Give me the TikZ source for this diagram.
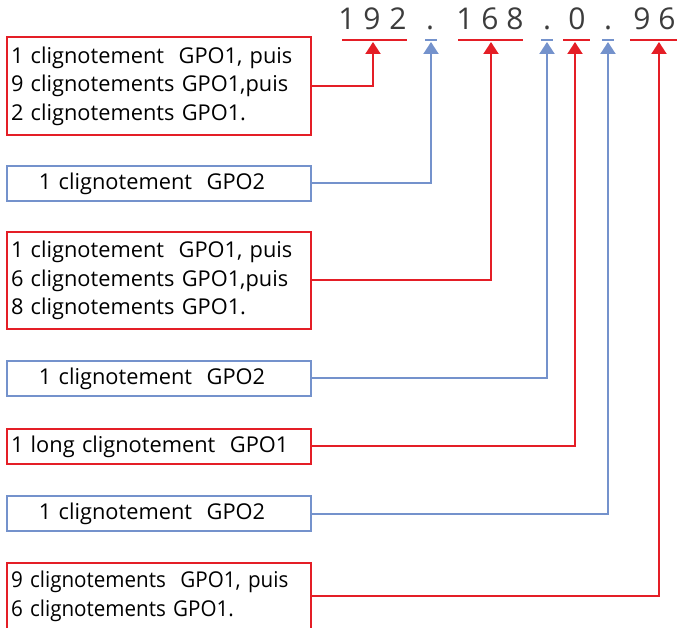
\documentclass[tikz,border=0pt]{standalone}
\usepackage{fontspec}
\setmainfont{Open Sans}
\newfontfamily\narrowf[FakeStretch=0.945]{Open Sans}
\usetikzlibrary{arrows.meta}
\definecolor{rd}{RGB}{228,30,38}
\definecolor{bl}{RGB}{116,146,204}
\definecolor{dg}{RGB}{60,60,60}
\begin{document}
\begin{tikzpicture}[x=1pt,y=-1pt,
  box/.style={draw,line width=2pt,minimum width=304pt,inner sep=0pt,anchor=west,
     font=\fontsize{21.8}{28.5}\selectfont,text width=296pt,align=left},
  rbox/.style={box,draw=rd},
  bbox/.style={box,draw=bl},
  dig/.style={anchor=base,inner sep=0pt,text=dg,font=\fontsize{30}{30}\selectfont},
  rline/.style={draw=rd,line width=2pt,-{Triangle[width=15pt,length=12pt]}},
  bline/.style={draw=bl,line width=2pt,-{Triangle[width=15pt,length=12pt]}},
  ul/.style={line width=2.5pt}]
\useasboundingbox (0,0) rectangle (678,628);
\clip (0,0) rectangle (678,628);
% address digits
\node[dig] (c1) at (347,30) {1};
\node[dig] (c2) at (372,30) {9};
\node[dig] (c3) at (398,30) {2};
\node[dig] (p1) at (430,30) {.};
\node[dig] (c4) at (465,30) {1};
\node[dig] (c5) at (490,30) {6};
\node[dig] (c6) at (515,30) {8};
\node[dig] (p2) at (547,30) {.};
\node[dig] (c7) at (577,30) {0};
\node[dig] (p3) at (608,30) {.};
\node[dig] (c8) at (642,30) {9};
\node[dig] (c9) at (667,30) {6};
% underlines
\draw[ul,rd] (342,40) -- (407,40);
\draw[ul,bl] (425,40) -- (437,40);
\draw[ul,rd] (458,40) -- (523,40);
\draw[ul,bl] (541,40) -- (553,40);
\draw[ul,rd] (563,40) -- (590,40);
\draw[ul,bl] (602,40) -- (614,40);
\draw[ul,rd] (630,40) -- (677,40);
% arrow tips
\coordinate (t1) at (373,42);
\coordinate (t2) at (431,42);
\coordinate (t3) at (491,42);
\coordinate (t4) at (547,42);
\coordinate (t5) at (575,42);
\coordinate (t6) at (608,42);
\coordinate (t7) at (659,42);
% boxes
\node[rbox,minimum height=98pt] (b1) at (6,86)
  {1 clignotement\ \ GPO1, puis\\9 clignotements GPO1,puis\\2 clignotements GPO1.};
\node[bbox,minimum height=35pt] (b2) at (6,183.5)
  {\hspace*{28pt}1 clignotement\ \ GPO2};
\node[rbox,minimum height=97pt] (b3) at (6,280.5)
  {1 clignotement\ \ GPO1, puis\\6 clignotements GPO1,puis\\8 clignotements GPO1.};
\node[bbox,minimum height=35pt] (b4) at (6,378.5)
  {\hspace*{28pt}1 clignotement\ \ GPO2};
\node[rbox,minimum height=35pt] (b5) at (6,446.5)
  {1 long clignotement\ \ GPO1};
\node[bbox,minimum height=35pt] (b6) at (6,513.5)
  {\hspace*{28pt}1 clignotement\ \ GPO2};
\node[rbox,minimum height=66pt,font=\narrowf\fontsize{21.8}{29}\selectfont] (b7) at (6,596)
  {9 clignotements\ \ GPO1, puis\\6 clignotements GPO1.};
% connectors
\draw[rline] (b1.east) -| (t1);
\draw[bline] (b2.east) -| (t2);
\draw[rline] (b3.east) -| (t3);
\draw[bline] (b4.east) -| (t4);
\draw[rline] (b5.east) -| (t5);
\draw[bline] (b6.east) -| (t6);
\draw[rline] (b7.east) -| (t7);
\end{tikzpicture}
\end{document}
